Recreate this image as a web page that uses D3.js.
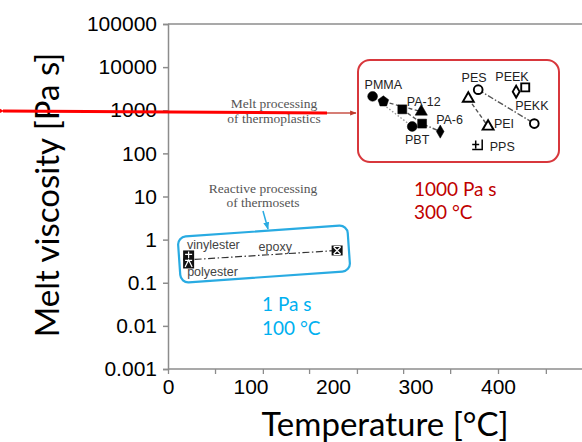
<!DOCTYPE html>
<html>
<head>
<meta charset="utf-8">
<script src="https://cdn.jsdelivr.net/npm/d3@7"></script>
<style>
  body { margin: 0; background: #fff; }
  svg { display: block; font-family: Lato, "Open Sans", sans-serif; }
  .tick text { font-size: 21px; fill: #000; }
  .axis-label { font-size: 33px; fill: #000; }
  .scan-label { font-family: "Liberation Sans", Arial, sans-serif; font-size: 12.5px; fill: #222; }
  .serif-note { font-family: "Liberation Serif", "DejaVu Serif", serif; font-size: 13.5px; fill: #555; }
</style>
</head>
<body>
<svg width="582" height="442"></svg>
<script>
const svg = d3.select('svg');

// x tick labels and the (offset) tick marks of the overlaid axis
const xTickLabels = [0, 100, 200, 300, 400];
const xTickMarks = [0, 57, 115, 171, 229, 285, 342, 400, 458];
const yTickValues = [0.001, 0.01, 0.1, 1, 10, 100, 1000, 10000, 100000];

// thermoplastics (melt processing)
const tpTemps = [248, 261, 284, 307, 296, 308, 330, 376, 364, 388, 433, 422, 444, 376];
const tpViscosities = [2100, 1600, 1050, 930, 420, 490, 320, 3000, 1870, 420, 3400, 2700, 490, 145];
const tpSymbols = ['circle', 'pentagon', 'square', 'triangle', 'circle', 'square', 'diamond',
  'circle', 'triangle', 'triangle', 'square', 'diamond', 'circle', 'pps'];
const tpFilled = [true, true, true, true, true, true, true,
  false, false, false, false, false, false, false];
// pairs of marker indices joined by broken lines
const tpLinks = [[0, 4, 'dot'], [1, 3, 'dash'], [2, 5, 'dash'], [5, 6, 'dashdot'], [7, 12, 'dashdot'], [8, 9, 'dash']];

const tpLabelNames = ['PMMA', 'PA-12', 'PA-6', 'PBT', 'PES', 'PEEK', 'PEKK', 'PEI', 'PPS'];
const tpLabelTemps = [261, 310, 325, 302, 371, 417, 441, 395, 390];
const tpLabelVisc = [4000, 1550, 620, 210, 5700, 6100, 1300, 480, 140];
const tpLabelAnchor = ['middle', 'middle', 'start', 'middle', 'middle', 'middle', 'middle', 'start', 'start'];

// thermosets (reactive processing)
const tsNames = ['vinylester', 'polyester', 'epoxy'];
const tsTemps = [25, 25, 205];
const tsViscosities = [0.43, 0.28, 0.56];
const tsGlyphs = ['plus', 'wedge', 'cross'];
const tsLabelTemps = [55, 54, 130];
const tsLabelVisc = [0.76, 0.18, 0.69];

const width = +svg.attr('width');
const height = +svg.attr('height');

const xScale = d3.scaleLinear().domain([0, 500]).range([168, 580.5]);
const yScale = d3.scaleLog().domain([0.001, 100000]).range([369, 24]);

const axisColor = '#8c8c8c';

// top frame line
svg.append('line')
  .attr('x1', xScale(0)).attr('x2', width)
  .attr('y1', yScale(100000)).attr('y2', yScale(100000))
  .attr('stroke', axisColor).attr('stroke-width', 1.3);

const yAxisG = svg.append('g')
  .attr('transform', `translate(${xScale(0)},0)`)
  .call(d3.axisLeft(yScale).tickValues(yTickValues).tickFormat(d3.format('~f')).tickSize(5).tickPadding(6));
yAxisG.selectAll('path, line').attr('stroke', axisColor).attr('stroke-width', 1.5);

const xAxisG = svg.append('g')
  .attr('transform', `translate(0,${yScale(0.001)})`)
  .call(d3.axisBottom(xScale).tickValues(xTickLabels).tickSize(0).tickPadding(10));
xAxisG.selectAll('path').attr('stroke', axisColor).attr('stroke-width', 1.5).attr('d', `M${xScale(0)},0H${width}`);
xAxisG.selectAll('.tick line').remove();

const xMarksG = svg.append('g')
  .attr('transform', `translate(0,${yScale(0.001)})`)
  .call(d3.axisBottom(xScale).tickValues(xTickMarks).tickSize(5).tickFormat(''));
xMarksG.select('.domain').remove();
xMarksG.selectAll('line').attr('stroke', axisColor).attr('stroke-width', 1.3);

svg.append('text')
  .attr('class', 'axis-label')
  .attr('x', 385).attr('y', 436)
  .attr('text-anchor', 'middle')
  .text('Temperature [°C]');

svg.append('text')
  .attr('class', 'axis-label')
  .attr('transform', 'translate(59,195) rotate(-90)')
  .attr('text-anchor', 'middle')
  .text('Melt viscosity [Pa s]');

// ---- thermoplastics group ----
const tpData = tpTemps.map((t, i) => ({t, v: tpViscosities[i], sym: tpSymbols[i], filled: tpFilled[i]}));

const dashes = {dot: '1.5,2', dash: '4,2.5', dashdot: '6,2,1.5,2'};
svg.append('g').selectAll('line').data(tpLinks).enter().append('line')
  .attr('x1', d => xScale(tpData[d[0]].t)).attr('y1', d => yScale(tpData[d[0]].v))
  .attr('x2', d => xScale(tpData[d[1]].t)).attr('y2', d => yScale(tpData[d[1]].v))
  .attr('stroke', d => d[2] === 'dot' ? '#999' : '#555')
  .attr('stroke-width', 1.4)
  .attr('stroke-dasharray', d => dashes[d[2]]);

const symbolPentagon = {
  draw(context, size) {
    const r = Math.sqrt(size / 2.4);
    for (let k = 0; k < 5; k++) {
      const a = -Math.PI / 2 + k * 2 * Math.PI / 5;
      if (k === 0) context.moveTo(r * Math.cos(a), r * Math.sin(a));
      else context.lineTo(r * Math.cos(a), r * Math.sin(a));
    }
    context.closePath();
  }
};
const symbolTypes = {
  circle: [d3.symbolCircle, 75],
  square: [d3.symbolSquare, 80],
  triangle: [d3.symbolTriangle, 65],
  diamond: [d3.symbolDiamond, 50],
  pentagon: [symbolPentagon, 75]
};

const markers = svg.append('g').selectAll('g').data(tpData).enter().append('g')
  .attr('transform', d => `translate(${xScale(d.t)},${yScale(d.v)})`);

markers.filter(d => d.sym !== 'pps').append('path')
  .attr('d', d => d3.symbol(symbolTypes[d.sym][0], symbolTypes[d.sym][1] * (d.filled ? 1 : 0.8))())
  .attr('fill', d => d.filled ? '#000' : '#fff')
  .attr('stroke', '#000')
  .attr('stroke-width', d => d.filled ? 0.5 : 1.9);

markers.filter(d => d.sym === 'pps').append('path')
  .attr('d', 'M-6,-2H1M-2.5,-6V2M-6,3H4V-7')
  .attr('fill', 'none')
  .attr('stroke', '#000')
  .attr('stroke-width', 1.5);

svg.append('g').selectAll('text').data(tpLabelNames).enter().append('text')
  .attr('class', 'scan-label')
  .attr('x', (d, i) => xScale(tpLabelTemps[i]))
  .attr('y', (d, i) => yScale(tpLabelVisc[i]))
  .attr('dy', '0.35em')
  .attr('text-anchor', (d, i) => tpLabelAnchor[i])
  .text(d => d);

// red box round thermoplastics
svg.append('rect')
  .attr('x', 358).attr('y', 60).attr('width', 201).attr('height', 102)
  .attr('rx', 12)
  .attr('fill', 'none').attr('stroke', '#d8373c').attr('stroke-width', 2);

svg.append('g').selectAll('text').data(['Melt processing', 'of thermoplastics']).enter().append('text')
  .attr('class', 'serif-note')
  .attr('x', 274).attr('y', (d, i) => 108 + i * 15)
  .attr('text-anchor', 'middle')
  .text(d => d);

const defs = svg.append('defs');
defs.append('marker').attr('id', 'redHead')
  .attr('viewBox', '0 0 10 10').attr('refX', 1).attr('refY', 5)
  .attr('markerWidth', 4).attr('markerHeight', 4.5).attr('orient', 'auto')
  .append('path').attr('d', 'M10,0L0,5L10,10Z').attr('fill', '#ff0000');
defs.append('marker').attr('id', 'smallHead')
  .attr('viewBox', '0 0 10 10').attr('refX', 9).attr('refY', 5)
  .attr('markerWidth', 5).attr('markerHeight', 5).attr('orient', 'auto')
  .append('path').attr('d', 'M0,1L10,5L0,9Z').attr('fill', '#c0392b');
defs.append('marker').attr('id', 'blueHead')
  .attr('viewBox', '0 0 10 10').attr('refX', 9).attr('refY', 5)
  .attr('markerWidth', 5).attr('markerHeight', 5).attr('orient', 'auto')
  .append('path').attr('d', 'M0,1L10,5L0,9Z').attr('fill', '#29abe2');

svg.append('line')
  .attr('x1', 327).attr('y1', 113).attr('x2', 356).attr('y2', 113)
  .attr('stroke', '#c0392b').attr('stroke-width', 1.3)
  .attr('marker-end', 'url(#smallHead)');

svg.append('line')
  .attr('x1', 327).attr('y1', 113).attr('x2', 3).attr('y2', 111)
  .attr('stroke', '#ff0000').attr('stroke-width', 3)
  .attr('marker-end', 'url(#redHead)');

svg.append('g').selectAll('text').data(['1000 Pa s', '300 °C']).enter().append('text')
  .attr('x', 414).attr('y', (d, i) => 196 + i * 23)
  .attr('font-size', 19).attr('fill', '#c00000')
  .text(d => d);

// ---- thermosets group ----
const tsData = tsTemps.map((t, i) => ({t, v: tsViscosities[i], glyph: tsGlyphs[i]}));

svg.append('line')
  .attr('x1', xScale(tsData[0].t) + 6)
  .attr('y1', yScale(Math.sqrt(tsData[0].v * tsData[1].v)))
  .attr('x2', xScale(tsData[2].t))
  .attr('y2', yScale(tsData[2].v))
  .attr('stroke', '#333').attr('stroke-width', 1.2)
  .attr('stroke-dasharray', '7,2.5,1.5,2.5');

const glyphPaths = {
  plus: 'M-3.5,-1H3.5M0,-4V3',
  wedge: 'M-3.5,3.5L0,-3.5L3.5,3.5M-3.5,-3H3.5',
  cross: 'M-3.5,-3.5L3.5,3.5M3.5,-3.5L-3.5,3.5M-3.5,-4H3.5M-3.5,4H3.5'
};
const tsMarks = svg.append('g').selectAll('g').data(tsData).enter().append('g')
  .attr('transform', d => `translate(${xScale(d.t)},${yScale(d.v)})`);
tsMarks.append('rect')
  .attr('x', -5.5).attr('y', -5).attr('width', 11).attr('height', 10)
  .attr('fill', '#111');
tsMarks.append('path')
  .attr('d', d => glyphPaths[d.glyph])
  .attr('fill', 'none').attr('stroke', '#fff').attr('stroke-width', 1.2);

svg.append('g').selectAll('text').data(tsNames).enter().append('text')
  .attr('class', 'scan-label')
  .attr('x', (d, i) => xScale(tsLabelTemps[i]))
  .attr('y', (d, i) => yScale(tsLabelVisc[i]))
  .attr('dy', '0.35em')
  .attr('text-anchor', 'middle')
  .style('fill', '#444')
  .text(d => d);

svg.append('rect')
  .attr('transform', 'translate(264,254) rotate(-4)')
  .attr('x', -85).attr('y', -23).attr('width', 170).attr('height', 46)
  .attr('rx', 8)
  .attr('fill', 'none').attr('stroke', '#29abe2').attr('stroke-width', 2.2);

svg.append('g').selectAll('text').data(['Reactive processing', 'of thermosets']).enter().append('text')
  .attr('class', 'serif-note')
  .attr('x', 263).attr('y', (d, i) => 193 + i * 14)
  .attr('text-anchor', 'middle')
  .text(d => d);

svg.append('line')
  .attr('x1', 263).attr('y1', 211).attr('x2', 268).attr('y2', 229)
  .attr('stroke', '#29abe2').attr('stroke-width', 1.5)
  .attr('marker-end', 'url(#blueHead)');

svg.append('g').selectAll('text').data(['1 Pa s', '100 °C']).enter().append('text')
  .attr('x', 262).attr('y', (d, i) => 311 + i * 24)
  .attr('font-size', 19).attr('fill', '#00b0f0')
  .text(d => d);
</script>
</body>
</html>
